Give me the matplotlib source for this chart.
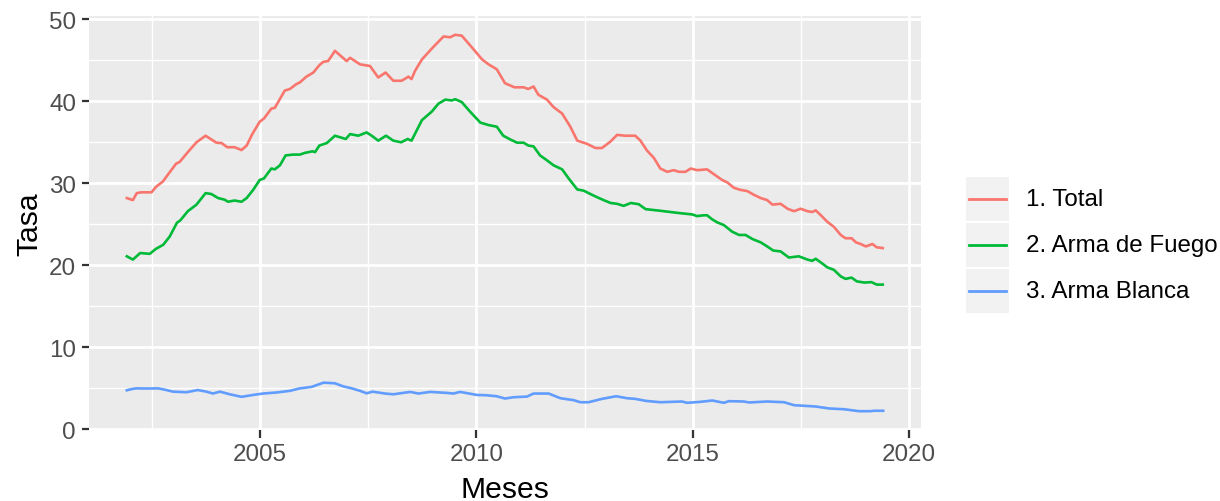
import matplotlib
matplotlib.use("Agg")
import matplotlib.pyplot as plt
from matplotlib.patches import Rectangle
from matplotlib.lines import Line2D

plt.rcParams['font.family'] = ['Liberation Sans', 'DejaVu Sans']

series_names = ["1. Total", "2. Arma de Fuego", "3. Arma Blanca"]
series_colors = ["#F8766D", "#00BA38", "#619CFF"]

total_x = [2001.92, 2002.06, 2002.15, 2002.25, 2002.49, 2002.60, 2002.75, 2002.89, 2003.06, 2003.14,
           2003.33, 2003.53, 2003.74, 2003.99, 2004.11, 2004.24, 2004.41, 2004.57, 2004.69, 2004.82,
           2004.99, 2005.09, 2005.26, 2005.34, 2005.57, 2005.69, 2005.84, 2005.92, 2006.07, 2006.23,
           2006.37, 2006.46, 2006.57, 2006.65, 2006.73, 2007.00, 2007.08, 2007.31, 2007.54, 2007.73,
           2007.90, 2008.08, 2008.27, 2008.43, 2008.50, 2008.58, 2008.74, 2009.00, 2009.24, 2009.39,
           2009.51, 2009.66, 2009.89, 2010.13, 2010.28, 2010.47, 2010.66, 2010.88, 2011.09, 2011.20,
           2011.32, 2011.43, 2011.63, 2011.78, 2011.98, 2012.17, 2012.33, 2012.56, 2012.75, 2012.90,
           2013.10, 2013.25, 2013.44, 2013.67, 2013.79, 2013.94, 2014.10, 2014.25, 2014.41, 2014.56,
           2014.68, 2014.83, 2014.95, 2015.10, 2015.33, 2015.49, 2015.68, 2015.80, 2015.95, 2016.10,
           2016.26, 2016.41, 2016.57, 2016.72, 2016.84, 2017.03, 2017.19, 2017.34, 2017.49, 2017.65,
           2017.76, 2017.84, 2017.96, 2018.11, 2018.26, 2018.42, 2018.53, 2018.67, 2018.77, 2018.88,
           2019.00, 2019.15, 2019.25, 2019.39]
total_y = [28.2, 27.95, 28.8, 28.9, 28.9, 29.6, 30.2, 31.2, 32.4, 32.6,
           33.8, 35.0, 35.8, 34.95, 34.9, 34.4, 34.4, 34.05, 34.6, 36.0,
           37.5, 37.9, 39.1, 39.2, 41.3, 41.5, 42.1, 42.3, 43.0, 43.5,
           44.4, 44.8, 44.9, 45.5, 46.15, 44.9, 45.3, 44.5, 44.3, 42.9,
           43.5, 42.5, 42.5, 43.0, 42.7, 43.7, 45.1, 46.6, 47.9, 47.8,
           48.1, 48.0, 46.6, 45.1, 44.5, 43.9, 42.2, 41.7, 41.7, 41.5,
           41.8, 40.8, 40.2, 39.3, 38.5, 36.9, 35.2, 34.8, 34.3, 34.3,
           35.1, 35.9, 35.8, 35.8, 35.2, 34.0, 33.1, 31.8, 31.4, 31.6,
           31.4, 31.4, 31.8, 31.6, 31.7, 31.1, 30.4, 30.1, 29.45, 29.2,
           29.05, 28.6, 28.2, 27.95, 27.4, 27.5, 26.9, 26.6, 26.9, 26.6,
           26.5, 26.7, 26.1, 25.3, 24.7, 23.7, 23.3, 23.3, 22.8, 22.6,
           22.3, 22.6, 22.2, 22.1]

fuego_x = [2001.92, 2002.06, 2002.23, 2002.45, 2002.59, 2002.76, 2002.91, 2003.08, 2003.16, 2003.33,
           2003.53, 2003.74, 2003.87, 2004.03, 2004.18, 2004.26, 2004.41, 2004.57, 2004.69, 2004.84,
           2004.99, 2005.09, 2005.26, 2005.34, 2005.46, 2005.59, 2005.76, 2005.92, 2006.03, 2006.21,
           2006.27, 2006.37, 2006.54, 2006.73, 2006.98, 2007.08, 2007.27, 2007.46, 2007.58, 2007.73,
           2007.91, 2008.08, 2008.26, 2008.41, 2008.50, 2008.74, 2008.97, 2009.12, 2009.28, 2009.43,
           2009.51, 2009.66, 2009.85, 2010.09, 2010.28, 2010.47, 2010.62, 2010.78, 2010.94, 2011.09,
           2011.20, 2011.32, 2011.47, 2011.63, 2011.78, 2011.98, 2012.13, 2012.33, 2012.48, 2012.63,
           2012.79, 2012.94, 2013.10, 2013.25, 2013.40, 2013.57, 2013.75, 2013.91, 2014.25, 2014.64,
           2014.99, 2015.10, 2015.25, 2015.33, 2015.45, 2015.56, 2015.72, 2015.91, 2016.07, 2016.22,
           2016.38, 2016.57, 2016.72, 2016.86, 2017.03, 2017.22, 2017.45, 2017.65, 2017.76, 2017.84,
           2017.96, 2018.11, 2018.26, 2018.42, 2018.53, 2018.67, 2018.79, 2018.96, 2019.13, 2019.25,
           2019.39]
fuego_y = [21.1, 20.7, 21.5, 21.4, 22.0, 22.5, 23.5, 25.2, 25.5, 26.6,
           27.4, 28.8, 28.7, 28.2, 28.0, 27.75, 27.9, 27.75, 28.2, 29.2,
           30.4, 30.6, 31.8, 31.7, 32.2, 33.4, 33.5, 33.5, 33.7, 33.9,
           33.8, 34.6, 34.9, 35.8, 35.4, 36.0, 35.8, 36.2, 35.8, 35.2,
           35.8, 35.2, 35.0, 35.4, 35.2, 37.7, 38.75, 39.7, 40.2, 40.1,
           40.25, 39.9, 38.75, 37.4, 37.1, 36.9, 35.8, 35.35, 34.95, 34.95,
           34.6, 34.5, 33.4, 32.8, 32.2, 31.7, 30.6, 29.25, 29.1, 28.7,
           28.3, 27.95, 27.6, 27.5, 27.25, 27.6, 27.45, 26.85, 26.65, 26.4,
           26.2, 26.0, 26.1, 26.1, 25.6, 25.25, 24.9, 24.1, 23.7, 23.7,
           23.2, 22.8, 22.3, 21.8, 21.7, 20.95, 21.1, 20.7, 20.55, 20.8,
           20.35, 19.75, 19.45, 18.65, 18.35, 18.5, 18.05, 17.9, 17.95, 17.65,
           17.65]

blanca_x = [2001.92, 2002.02, 2002.14, 2002.37, 2002.64, 2002.79, 2002.99, 2003.30, 2003.56, 2003.76,
            2003.91, 2004.07, 2004.30, 2004.57, 2004.84, 2005.07, 2005.38, 2005.69, 2005.92, 2006.19,
            2006.47, 2006.73, 2006.92, 2007.12, 2007.31, 2007.46, 2007.60, 2007.89, 2008.08, 2008.47,
            2008.66, 2008.93, 2009.31, 2009.47, 2009.62, 2010.01, 2010.24, 2010.47, 2010.66, 2010.86,
            2011.17, 2011.32, 2011.67, 2011.94, 2012.25, 2012.40, 2012.59, 2012.90, 2013.23, 2013.48,
            2013.67, 2013.91, 2014.25, 2014.75, 2014.87, 2015.18, 2015.45, 2015.72, 2015.83, 2016.18,
            2016.30, 2016.72, 2017.11, 2017.34, 2017.84, 2018.15, 2018.49, 2018.84, 2019.11, 2019.18,
            2019.40]
blanca_y = [4.77, 4.9, 5.0, 4.98, 5.0, 4.85, 4.6, 4.53, 4.8, 4.6,
            4.37, 4.6, 4.28, 3.97, 4.2, 4.37, 4.5, 4.7, 5.0, 5.18,
            5.7, 5.62, 5.25, 5.0, 4.7, 4.4, 4.6, 4.37, 4.28, 4.57,
            4.37, 4.57, 4.45, 4.37, 4.57, 4.2, 4.16, 4.04, 3.76, 3.92,
            4.0, 4.37, 4.37, 3.8, 3.56, 3.31, 3.31, 3.72, 4.04, 3.8,
            3.72, 3.48, 3.31, 3.4, 3.24, 3.36, 3.52, 3.24, 3.44, 3.4,
            3.28, 3.4, 3.31, 2.95, 2.79, 2.55, 2.46, 2.22, 2.22, 2.27,
            2.27]

x_ticks = [2005, 2010, 2015, 2020]
x_minor = [2002.5, 2007.5, 2012.5, 2017.5]
y_ticks = [0, 10, 20, 30, 40, 50]
y_minor = [5, 15, 25, 35, 45]

W, H = 1220, 502
fig = plt.figure(figsize=(W / 100, H / 100), dpi=100)
L, R, T, B = 89, 921, 17, 431
ax = fig.add_axes([L / W, 1 - B / H, (R - L) / W, (B - T) / H])
ax.set_facecolor("#EBEBEB")
for s in ax.spines.values():
    s.set_visible(False)

xs = [total_x, fuego_x, blanca_x]
ys = [total_y, fuego_y, blanca_y]
for x, y, c in zip(xs, ys, series_colors):
    ax.plot(x, y, color=c, lw=1.9, solid_joinstyle="round", zorder=3)

allx = [v for s in xs for v in s]
ally = [v for s in ys for v in s]
xr = max(allx) - min(allx)
yr = max(ally) - min(ally)
ax.set_xlim(min(allx) - 0.05 * xr, max(allx) + 0.05 * xr)
ax.set_ylim(min(ally) - 0.05 * yr, max(ally) + 0.05 * yr)

ax.set_xticks(x_ticks)
ax.set_xticks(x_minor, minor=True)
ax.set_yticks(y_ticks)
ax.set_yticks(y_minor, minor=True)
ax.grid(which="major", color="white", lw=2.0, zorder=1)
ax.grid(which="minor", color="white", lw=1.0, zorder=1)
ax.set_axisbelow(True)
ax.tick_params(which="major", length=5.4, width=1.6, color="#333333",
               labelsize=17.4, labelcolor="#4D4D4D", pad=4)
ax.tick_params(which="minor", length=0)

ax.set_xlabel("Meses", fontsize=21.7, color="black", labelpad=7)
ax.set_ylabel("Tasa", fontsize=21.7, color="black", labelpad=4)

# legend (ggplot style keys)
def px(x, y):
    return x / W, 1 - y / H

key_x0, key_w, key_h = 966, 43, 44
key_tops = [178, 224, 270]
for name, c, top in zip(series_names, series_colors, key_tops):
    x0, y0 = px(key_x0, top + key_h)
    fig.add_artist(Rectangle((x0, y0), key_w / W, key_h / H, transform=fig.transFigure,
                             facecolor="#F2F2F2", edgecolor="none"))
    yc = top + key_h / 2
    xa, ya = px(key_x0 + 3, yc)
    xb, _ = px(key_x0 + key_w - 3, yc)
    fig.add_artist(Line2D([xa, xb], [ya, ya], transform=fig.transFigure, color=c, lw=2.0))
    tx, ty = px(1026, yc)
    fig.text(tx, ty, name, fontsize=17.4, color="black", va="center", ha="left")

fig.savefig("out.png", dpi=100)
